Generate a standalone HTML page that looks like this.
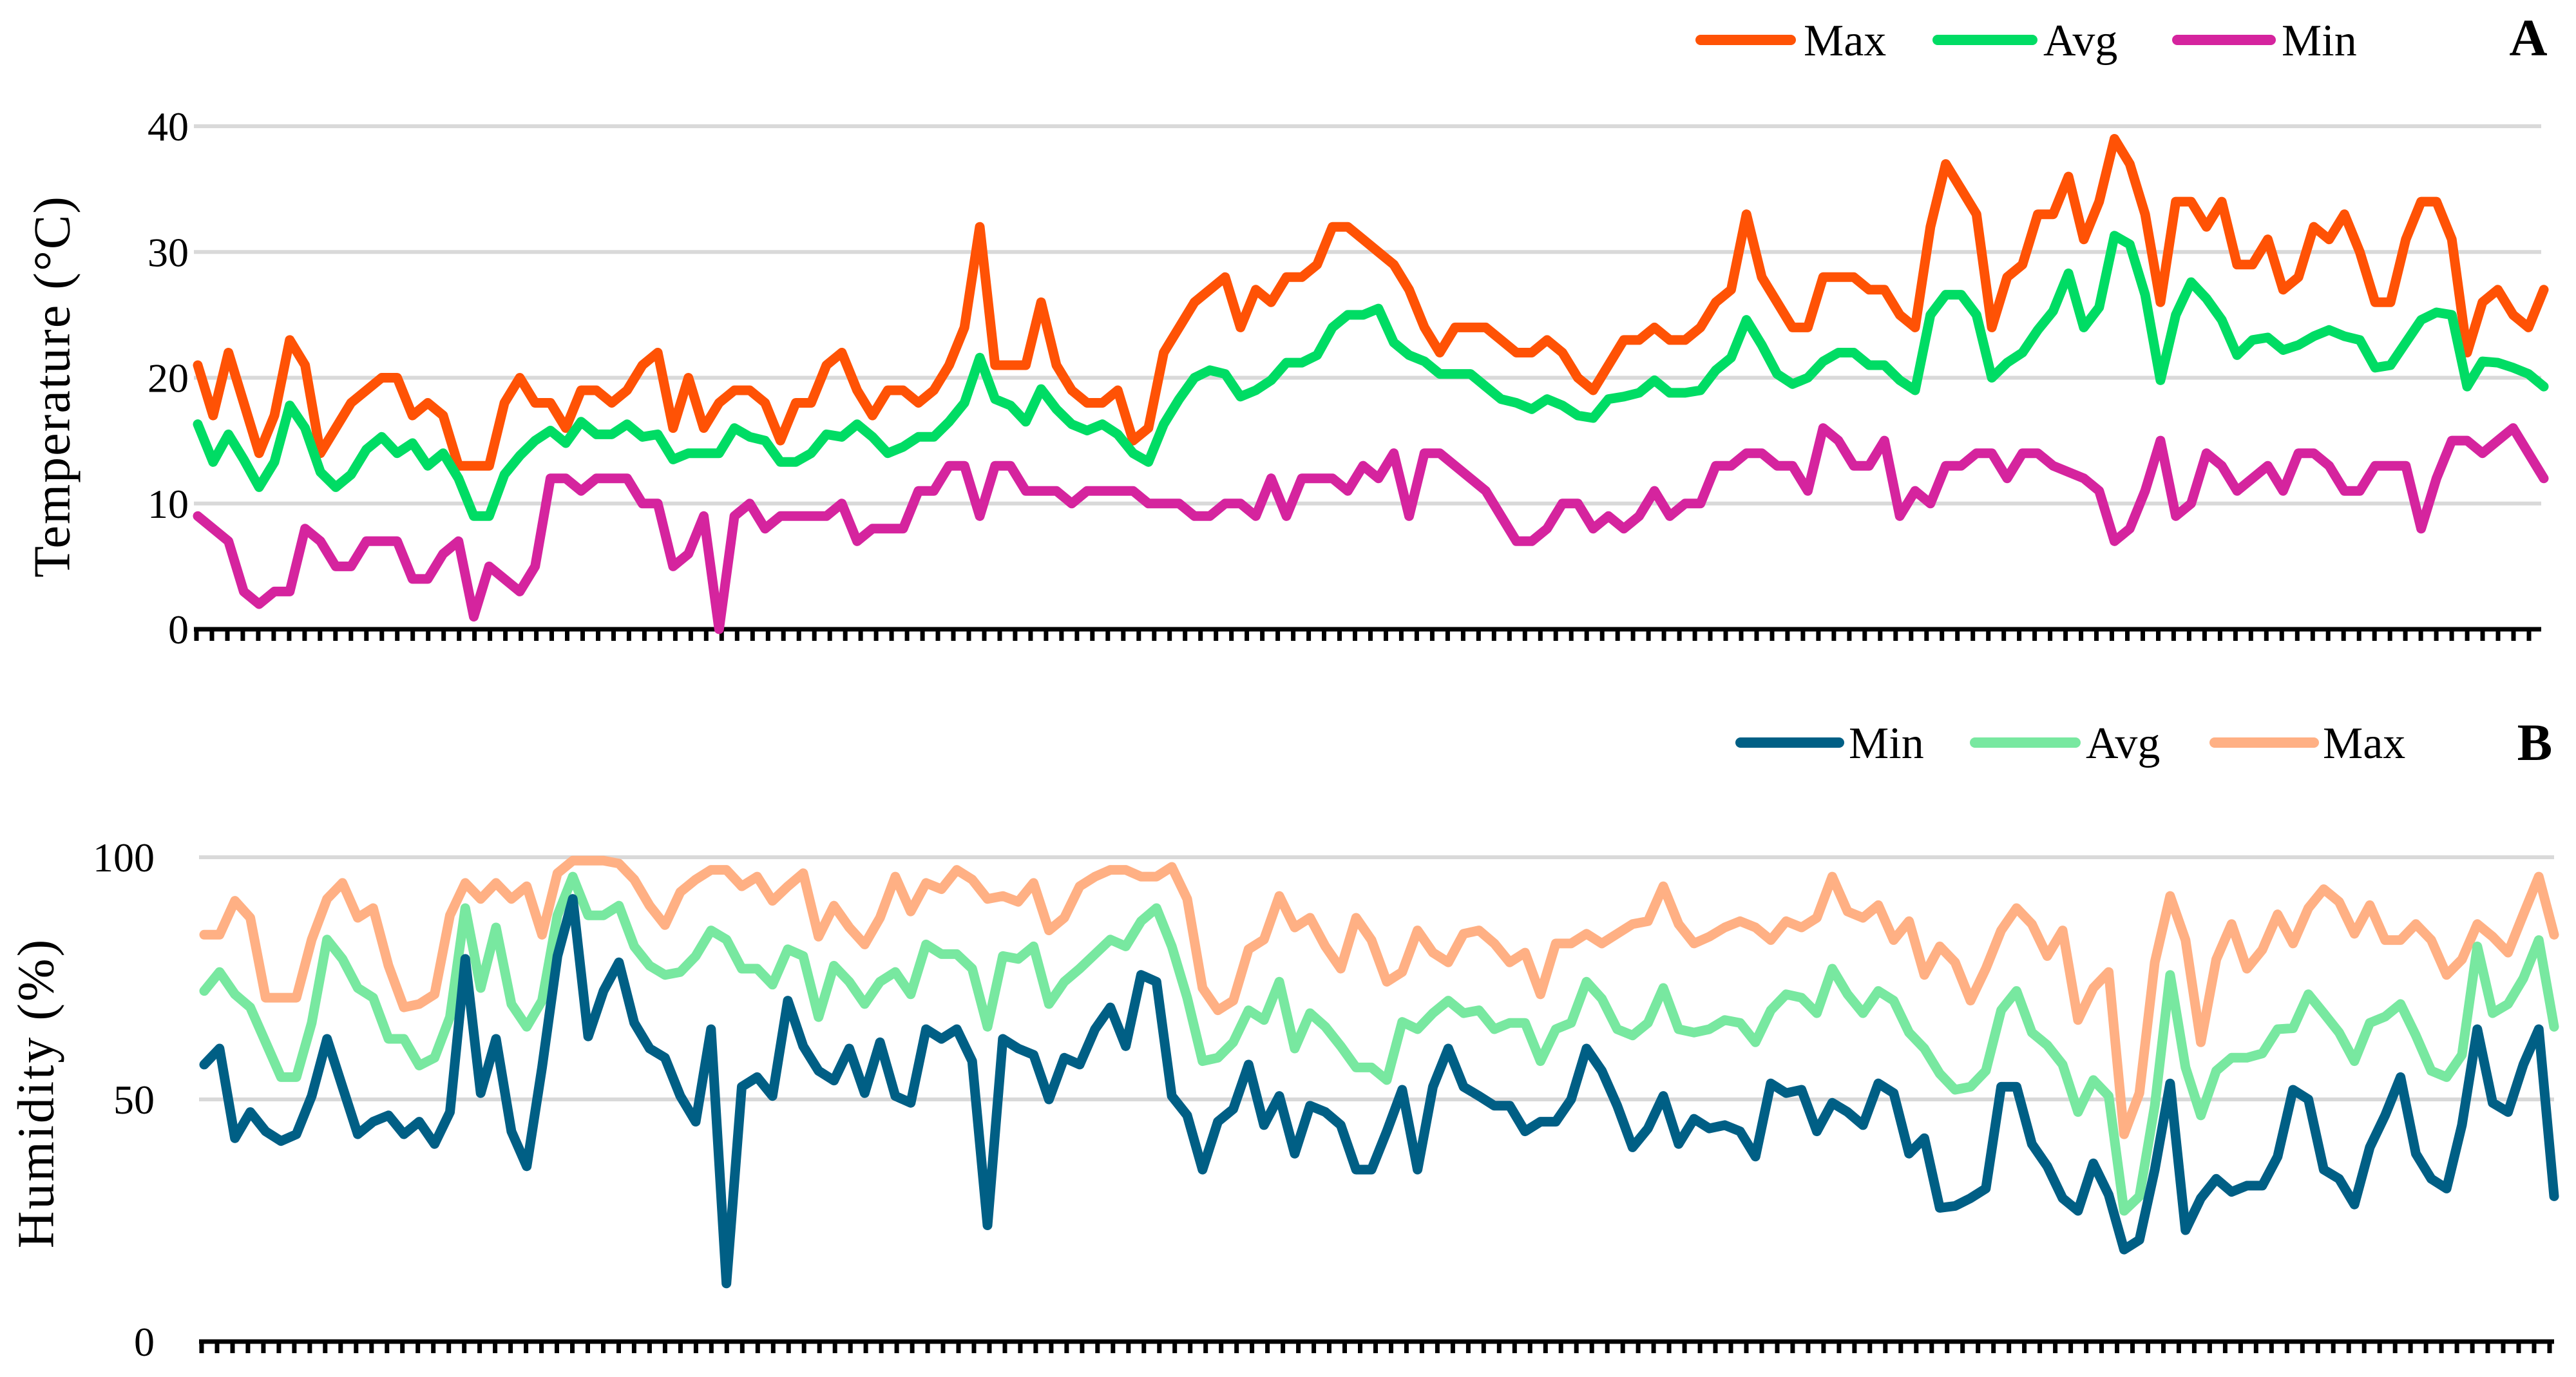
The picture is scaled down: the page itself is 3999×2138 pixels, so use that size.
<!DOCTYPE html>
<html><head><meta charset="utf-8"><style>
html,body{margin:0;padding:0;background:#fff;}
svg{display:block;}
text{font-family:"Liberation Serif",serif;fill:#000;}
</style></head><body>
<svg id="chart" width="3999" height="2138" viewBox="0 0 3999 2138" xmlns="http://www.w3.org/2000/svg">
<g id="panelA"></g>
<g id="panelB"></g>
<text x="89" y="600" font-size="80" letter-spacing="2" text-anchor="middle" transform="rotate(-90 89 600)" dominant-baseline="middle">Temperature (°C)</text>
<text x="64" y="1697" font-size="80" letter-spacing="3" text-anchor="middle" transform="rotate(-90 64 1697)" dominant-baseline="middle">Humidity (%)</text>
<text x="3925" y="86" font-size="82" font-weight="bold" text-anchor="middle">A</text>
<text x="3935" y="1180" font-size="82" font-weight="bold" text-anchor="middle">B</text>
</svg>
<script>
const tempTicks = [0,10,20,30,40];
const humTicks = [0,50,100];
const tempMax = [21,17,22,18,14,17,23,21,14,16,18,19,20,20,17,18,17,13,13,13,18,20,18,18,16,19,19,18,19,21,22,16,20,16,18,19,19,18,15,
18,18,21,22,19,17,19,19,18,19,21,24,32,21,21,21,26,21,19,18,18,19,15,16,22,24,26,27,28,24,27,26,28,28,29,32,32,31,
30,29,27,24,22,24,24,24,23,22,22,23,22,20,19,21,23,23,24,23,23,24,26,27,33,28,26,24,24,28,28,28,27,27,25,24,32,37,
35,33,24,28,29,33,33,36,31,34,39,37,33,26,34,34,32,34,29,29,31,27,28,32,31,33,30,26,26,31,34,34,31,22,26,27,25,24,27];
const tempAvg = [16.3,13.3,15.5,13.5,11.3,13.3,17.8,16,12.5,11.3,12.3,14.3,15.3,14,14.8,13,14,12,9,9,12.3,13.8,15,15.8,14.8,16.5,15.5,15.5,16.3,15.3,15.5,13.5,14,14,14,16,15.3,15,13.3,
13.3,14,15.5,15.3,16.3,15.3,14,14.5,15.3,15.3,16.5,18,21.6,18.3,17.8,16.5,19.1,17.5,16.3,15.8,16.3,15.5,14,13.3,16.3,18.3,20,20.6,20.3,18.5,19,19.8,21.2,21.2,21.8,24,25,25,
25.5,22.8,21.8,21.3,20.3,20.3,20.3,19.3,18.3,18,17.5,18.3,17.8,17,16.8,18.3,18.5,18.8,19.8,18.8,18.8,19,20.6,21.6,24.6,22.6,20.3,19.5,20,21.3,22,22,21,21,19.8,19,25,26.6,
26.6,25,20,21.2,22,23.8,25.3,28.3,24,25.6,31.3,30.6,26.6,19.8,25,27.6,26.3,24.6,21.8,23,23.2,22.2,22.6,23.3,23.8,23.3,23,20.8,21,22.8,24.6,25.2,25,19.3,21.3,21.2,20.8,20.3,19.3];
const tempMin = [9,8,7,3,2,3,3,8,7,5,5,7,7,7,4,4,6,7,1,5,4,3,5,12,12,11,12,12,12,10,10,5,6,9,0,9,10,8,9,
9,9,9,10,7,8,8,8,11,11,13,13,9,13,13,11,11,11,10,11,11,11,11,10,10,10,9,9,10,10,9,12,9,12,12,12,11,13,
12,14,9,14,14,13,12,11,9,7,7,8,10,10,8,9,8,9,11,9,10,10,13,13,14,14,13,13,11,16,15,13,13,15,9,11,10,13,
13,14,14,12,14,14,13,12.5,12,11,7,8,11,15,9,10,14,13,11,12,13,11,14,14,13,11,11,13,13,13,8,12,15,15,14,15,16,14,12];
const humMax = [84,84,91,87.5,71,71,71,83,91.4,94.7,87.5,89.5,77.6,69,69.7,71.7,88,94.7,91.4,94.7,91.4,94,84,96.7,99.3,99.3,99.3,98.7,95.4,90,86,92.8,95.4,97.4,97.4,94,96,91,
94,96.7,83.6,90,85.5,82,87.5,96,88.8,94.7,93.4,97.4,95.4,91.4,92,90.8,94.7,84.9,87.5,94,96,97.4,97.4,96,96,98,91.4,73,68.4,70.4,81,83,92,85.5,87.5,81.6,77,87.5,
82.9,74.3,76.3,84.9,80.3,78.3,84.2,84.9,82.2,78.3,80.3,71.7,82.2,82.2,84.2,82.2,84.2,86.2,86.8,94,86.2,82.2,83.6,85.5,86.8,85.5,82.9,86.8,85.5,87.5,96,88.8,87.5,90.1,82.9,86.8,75.7,81.6,
78.3,70.4,77,84.9,89.5,86.2,79.6,84.9,66.4,73,76.3,42.8,51.3,78.3,92,82.9,61.8,78.9,86.2,77,80.9,88.2,82.2,89.5,93.4,90.8,84.2,90.1,82.9,82.9,86.2,82.9,75.7,78.9,86.2,83.6,80.3,88.2,96,84];
const humAvg = [72.4,76.3,71.7,69,61.8,54.6,54.6,65.8,83,79,73,71,62.5,62.5,57,58.6,67,89.5,73,85.5,69.7,65,70.4,88,96,88,88,90,81.6,77.6,75.7,76.3,79.6,84.9,83,77,77,73.7,
81,79.6,67,77.6,74.3,69.7,74.3,76.3,71.7,82,80,80,77,65,79.6,79,81.6,69.7,74.3,77,80,83,81.6,86.8,89.5,81.6,71,57.9,58.6,61.8,68.4,66.4,74.3,60.5,67.8,65,61,56.6,
56.6,54,66,64.5,67.8,70.4,67.8,68.4,64.5,65.8,65.8,57.9,64.5,65.8,74.3,70.8,64.5,63.2,65.8,73,64.5,63.8,64.5,66.4,65.8,61.8,68.4,71.7,71,67.8,77,71.7,67.8,72.4,70.4,63.8,60.5,55.3,
52,52.6,55.9,68.4,72.4,63.8,61.2,57.2,47.4,54,50.7,27,30,48.7,75.7,56.6,46.7,55.9,58.6,58.6,59.5,64.5,64.7,71.7,67.8,63.8,57.9,65.8,67.1,69.7,63.2,55.9,54.6,59.2,81.6,67.8,69.7,75,82.9,65];
const humMin = [57.2,60.5,42,47.4,43.4,41.4,42.8,50.7,62.5,52.6,42.8,45.4,46.7,42.8,45.4,40.8,47.4,79,51.3,62.5,43.4,36.2,56.6,79.6,91.4,63,72.4,78.3,65.8,60.5,58.6,50.7,45.4,64.5,12,52.6,54.6,50.7,
70.4,61,55.9,53.9,60.5,51.3,61.8,50.7,49.3,64.5,62.5,64.5,57.9,24,62.5,60.5,59.2,50,58.6,57.2,64.5,69,61,75.7,74.3,50.7,46.7,35.5,45.4,48,57.2,44.7,50.7,38.8,48.7,47.4,44.7,35.5,
35.5,43.4,52,35.5,52.6,60.5,52.6,50.7,48.7,48.7,43.4,45.4,45.4,50,60.5,55.9,48.7,40.1,44,50.7,40.8,46,44,44.7,43.4,38.2,53.3,51.3,52,43.4,49.3,47.4,44.7,53.3,51.3,38.8,42,27.6,
28,29.6,31.6,52.6,52.6,40.8,36.2,29.6,27,36.8,30.3,19,21,35.5,53.3,23,29.6,33.6,30.9,32.2,32.2,38.2,52,50,35.5,33.6,28.3,40.1,46.7,54.6,38.8,33.6,31.6,44.7,64.5,49.3,47.4,57.2,64.5,30];

const NS = "http://www.w3.org/2000/svg";
function mk(parent, tag, attrs){const e=document.createElementNS(NS,tag);for(const k in attrs)e.setAttribute(k,attrs[k]);parent.appendChild(e);return e;}

function panel(g, cfg){
  const yScale=v=>cfg.y0+(v-cfg.vmin)/(cfg.vmax-cfg.vmin)*(cfg.y1-cfg.y0);
  cfg.ticks.forEach(t=>{
    if(t!==cfg.vmin){
      const gl=mk(g,'line',{x1:cfg.axL,x2:cfg.axR,y1:yScale(t),y2:yScale(t),stroke:'#d9d9d9','stroke-width':6});
      
      
    }
    const tl=mk(g,'text',{x:cfg.labelX,y:yScale(t)+22,'font-size':64,'text-anchor':'end'});
    tl.textContent=t;
    
    
  });
  const ax=mk(g,'line',{x1:cfg.axL,x2:cfg.axR,y1:cfg.y0,y2:cfg.y0,stroke:'#000','stroke-width':7});
  
  
  let d='';
  for(let x=cfg.axL+4;x<=cfg.axR+1;x+=23.98){d+='M'+x.toFixed(1)+' '+cfg.y0+'v18';}
  const tk=mk(g,'path',{d:d,stroke:'#000','stroke-width':7});
  
  
  cfg.series.forEach(s=>{
    const n=s.data.length;
    const step=(cfg.pR-cfg.pL)/(n-1);
    const pts=s.data.map((v,i)=>(cfg.pL+i*step).toFixed(1)+','+yScale(v).toFixed(1)).join(' ');
    const pl=mk(g,'polyline',{points:pts,fill:'none',stroke:s.color,'stroke-width':15,'stroke-linejoin':'round','stroke-linecap':'round'});
    
    
  });
  cfg.legend.forEach(l=>{
    const ll=mk(g,'line',{x1:l.x1,x2:l.x2,y1:cfg.legY,y2:cfg.legY,stroke:l.color,'stroke-width':16,'stroke-linecap':'round'});
    
    
    const lt=mk(g,'text',{x:l.tx,y:cfg.legY+24,'font-size':70});
    lt.textContent=l.label;
    
    
  });
}

panel(document.getElementById('panelA'),{
  y0:977,y1:196,vmin:0,vmax:40,ticks:tempTicks,axL:301,axR:3945,pL:307,pR:3949,labelX:293,legY:62,
  series:[{data:tempMax,color:'#ff5205',name:'temp-max-line'},{data:tempAvg,color:'#00dc64',name:'temp-avg-line'},{data:tempMin,color:'#d5249e',name:'temp-min-line'}],
  legend:[{x1:2640,x2:2780,tx:2800,label:'Max',color:'#ff5205'},{x1:3008,x2:3155,tx:3172,label:'Avg',color:'#00dc64'},{x1:3380,x2:3525,tx:3542,label:'Min',color:'#d5249e'}]
});
panel(document.getElementById('panelB'),{
  y0:2083,y1:1331,vmin:0,vmax:100,ticks:humTicks,axL:309,axR:3965,pL:317,pR:3965,labelX:240,legY:1153,
  series:[{data:humMax,color:'#ffb084',name:'humidity-max-line'},{data:humAvg,color:'#78e8a0',name:'humidity-avg-line'},{data:humMin,color:'#005f85',name:'humidity-min-line'}],
  legend:[{x1:2702,x2:2855,tx:2870,label:'Min',color:'#005f85'},{x1:3066,x2:3222,tx:3238,label:'Avg',color:'#78e8a0'},{x1:3438,x2:3592,tx:3606,label:'Max',color:'#ffb084'}]
});
</script>
</body></html>
